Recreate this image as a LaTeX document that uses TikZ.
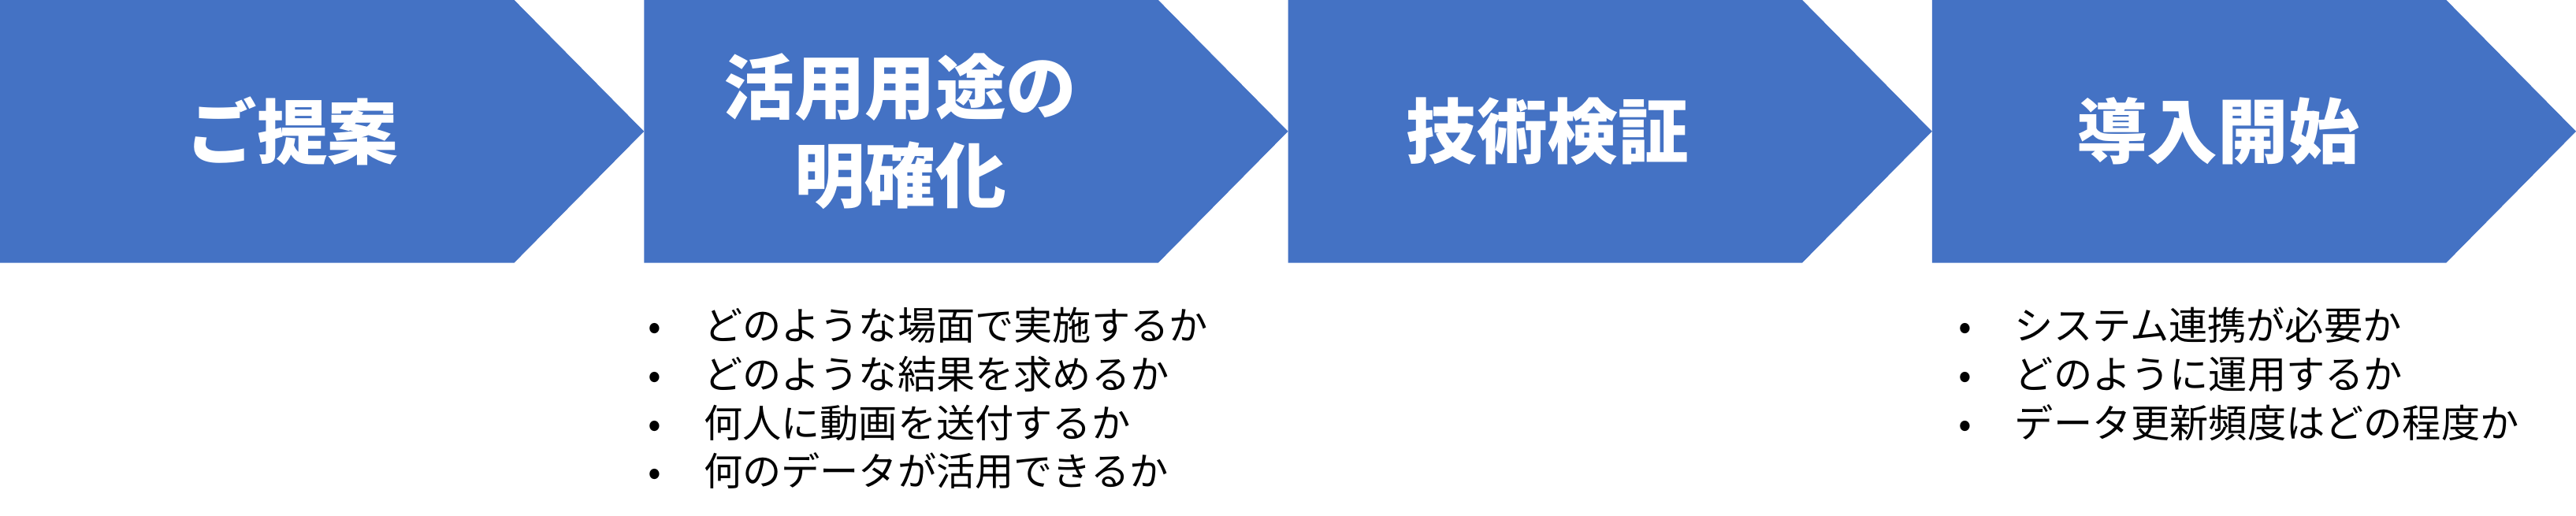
\documentclass[tikz,border=0pt]{standalone}
\usepackage{fontspec}
\setmainfont{Noto Sans CJK JP}
\usetikzlibrary{positioning}
\definecolor{stepblue}{HTML}{4472C4}
\tikzset{
  chevron/.style={fill=stepblue, draw=none},
  steplabel/.style={text=white, font=\fontsize{21.5}{27}\selectfont\bfseries, align=center},
  notes/.style={font=\fontsize{11.8}{14.8}\selectfont, align=left, anchor=north west, inner sep=0pt}
}
\begin{document}
\begin{tikzpicture}[x=0.5pt,y=0.5pt]
  \useasboundingbox (0,0) rectangle (1568,314);
  % pentagons
  \foreach \i in {0,1,2,3} {
    \fill[chevron] (392*\i,314) -- ++(313,0) -- ++(79,-80) -- ++(-79,-80) -- ++(-313,0) -- cycle;
  }
  \node[steplabel] (s1) at (178,234) {ご提案};
  \node[steplabel] (s2) at (548,234) {活用用途の\\明確化};
  \node[steplabel] (s3) at (942,234) {技術検証};
  \node[steplabel] (s4) at (1350,234) {導入開始};
  % notes
  \node[notes] (n2) at (394,128) {%
    \begin{tabular}{@{}l@{\hspace{13pt}}l@{}}
      • & どのような場面で実施するか\\
      • & どのような結果を求めるか\\
      • & 何人に動画を送付するか\\
      • & 何のデータが活用できるか
    \end{tabular}};
  \node[notes] (n4) at (1192,128) {%
    \begin{tabular}{@{}l@{\hspace{13pt}}l@{}}
      • & システム連携が必要か\\
      • & どのように運用するか\\
      • & データ更新頻度はどの程度か
    \end{tabular}};
\end{tikzpicture}
\end{document}
